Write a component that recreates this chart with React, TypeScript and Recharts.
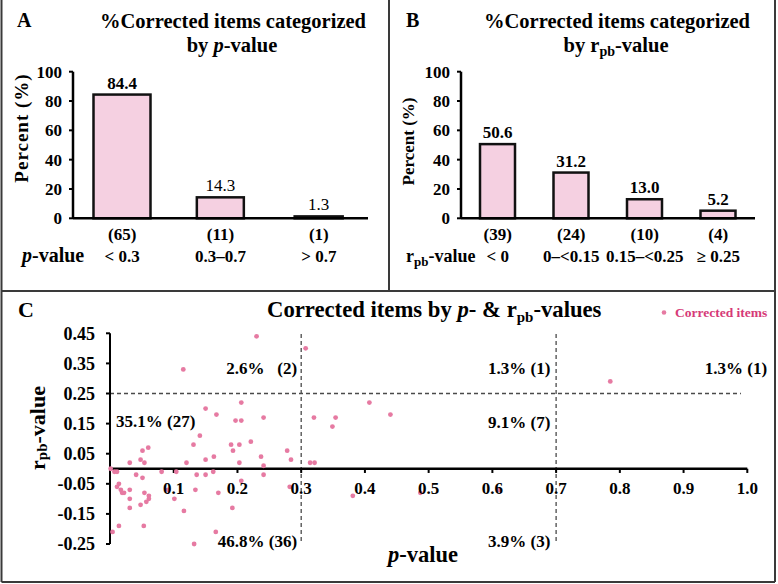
import { BarChart, Bar, XAxis, YAxis, LabelList, ScatterChart, Scatter, ReferenceLine, ReferenceDot } from "recharts";

const SERIF = "'Liberation Serif', 'Times New Roman', Times, serif";
const BAR_FILL = "#f5d0e1";
const DOT_FILL = "#e67aa2";
const LEGEND_INK = "#d63a78";
const DASH = "#4a4a4a";
const FRAME = "#3a3a3a";

// Panel A: corrected items grouped by p-value
const P_RANGES = ["< 0.3", "0.3–0.7", "> 0.7"];
const P_COUNTS = [65, 11, 1];
const P_PERCENT = [84.4, 14.3, 1.3];

// Panel B: corrected items grouped by r_pb
const R_RANGES = ["< 0", "0–<0.15", "0.15–<0.25", "≥ 0.25"];
const R_COUNTS = [39, 24, 10, 4];
const R_PERCENT = [50.6, 31.2, 13.0, 5.2];

const PERCENT_TICKS = [0, 20, 40, 60, 80, 100];

// Panel C: each corrected item, p-value vs r_pb-value
const ITEM_P = [
  0.23, 0.115, 0.206, 0.15, 0.167, 0.241, 0.197, 0.206, 0.141, 0.221, 0.131, 0.19, 0.203, 0.193, 0.278,
  0.06, 0.051, 0.048, 0.054, 0.031, 0.12, 0.15, 0.163, 0.237, 0.241, 0.284, 0.203, 0.001,
  0.007, 0.011, 0.041, 0.081, 0.104, 0.136, 0.15, 0.162, 0.241, 0.051, 0.206, 0.014, 0.011, 0.017,
  0.019, 0.022, 0.031, 0.031, 0.031, 0.048, 0.054, 0.061, 0.061, 0.057, 0.053, 0.101, 0.116, 0.134,
  0.17, 0.282, 0.192, 0.166, 0.132, 0.004, 0.014, 0.091,
  0.307, 0.407, 0.32, 0.354, 0.349, 0.44, 0.314, 0.321, 0.381, 0.487, 0.61,
  0.785,
];
const ITEM_R = [
  0.44, 0.33, 0.22, 0.2, 0.18, 0.17, 0.16, 0.16, 0.11, 0.09, 0.08, 0.08, 0.08, 0.06, 0.06,
  0.07, 0.06, 0.03, 0.02, 0.02, 0.02, 0.03, 0.04, 0.04, 0.01, 0.03, 0.02, 0.0,
  -0.01, -0.01, -0.02, -0.01, -0.01, -0.02, -0.02, -0.01, -0.02, -0.03, -0.04, -0.05, -0.06, -0.07,
  -0.08, -0.08, -0.07, -0.1, -0.13, -0.12, -0.08, -0.09, -0.1, -0.11, -0.19, -0.1, -0.14, -0.07,
  -0.08, -0.06, -0.13, -0.21, -0.25, -0.21, -0.19, -0.07,
  0.4, 0.22, 0.17, 0.17, 0.14, 0.18, 0.02, 0.02, -0.09, -0.08, -0.07,
  0.29,
];
const RPB_TICKS = [-0.25, -0.15, -0.05, 0.05, 0.15, 0.25, 0.35, 0.45];
const P_TICKS = [0.1, 0.2, 0.3, 0.4, 0.5, 0.6, 0.7, 0.8, 0.9, 1.0];
const P_CUTS = [0.3, 0.7];
const R_CUT = 0.25;

// quadrant share labels, anchored in data units
const QUADRANT_NOTES = [
  { text: "2.6%\u00a0\u00a0\u00a0(2)", p: 0.2935, r: 0.315, anchor: "end" },
  { text: "1.3% (1)", p: 0.691, r: 0.315, anchor: "end" },
  { text: "1.3% (1)", p: 1.031, r: 0.315, anchor: "end" },
  { text: "35.1% (27)", p: 0.0095, r: 0.14, anchor: "start" },
  { text: "9.1% (7)", p: 0.691, r: 0.137, anchor: "end" },
  { text: "46.8% (36)", p: 0.2935, r: -0.259, anchor: "end" },
  { text: "3.9% (3)", p: 0.691, r: -0.259, anchor: "end" },
];

const items = ITEM_P.map((p, i) => ({ p, r: ITEM_R[i] }));

const boldText = { fontFamily: SERIF, fontWeight: 700, fill: "#000" };

type BarsProps = {
  ranges: string[];
  counts: number[];
  percents: number[];
  width: number;
  yAxisWidth: number;
  barSize: number;
  barWidths?: number[];
  labelWeights?: number[];
};

function CategoryBars({ ranges, counts, percents, width, yAxisWidth, barSize, barWidths, labelWeights }: BarsProps) {
  const rows = ranges.map((range, idx) => ({ range, idx, count: counts[idx], percent: percents[idx] }));

  // eslint-disable-next-line @typescript-eslint/no-explicit-any
  const drawBar = (props: any) => {
    const { x, y, width: w, height: h, payload } = props;
    const bw = barWidths ? barWidths[payload.idx] : w;
    return <rect x={x + w / 2 - bw / 2} y={y} width={bw} height={Math.max(h, 0)} fill={BAR_FILL} stroke="#111" strokeWidth={2.5} />;
  };

  // eslint-disable-next-line @typescript-eslint/no-explicit-any
  const drawTick = (props: any) => {
    const { x, y, index } = props;
    return (
      <g>
        <text x={x} y={y + 22} textAnchor="middle" fontSize={17} {...boldText}>({counts[index]})</text>
        <text x={x} y={y + 44} textAnchor="middle" fontSize={17} {...boldText}>{ranges[index]}</text>
      </g>
    );
  };

  // eslint-disable-next-line @typescript-eslint/no-explicit-any
  const drawValue = (props: any) => {
    const { x, y, width: w, value, index } = props;
    return (
      <text x={x + w / 2} y={y - 6} textAnchor="middle" fontSize={17} fontFamily={SERIF} fill="#000"
        fontWeight={labelWeights ? labelWeights[index] : 700}>
        {Number(value).toFixed(1)}
      </text>
    );
  };

  return (
    <BarChart width={width} height={291} data={rows} margin={{ top: 71.7, right: 21, bottom: 0, left: 0 }} barSize={barSize}>
      <XAxis dataKey="range" height={72.7} axisLine={{ stroke: "#000", strokeWidth: 2.5 }} tickLine={false}
        tickSize={0} tickMargin={0} interval={0} tick={drawTick} />
      <YAxis domain={[0, 100]} ticks={PERCENT_TICKS} width={yAxisWidth} interval={0}
        axisLine={{ stroke: "#000", strokeWidth: 2.5 }} tickLine={{ stroke: "#000", strokeWidth: 2 }}
        tickSize={4} tickMargin={7} tick={{ ...boldText, fontSize: 17 }} />
      <Bar dataKey="percent" isAnimationActive={false} shape={drawBar}>
        <LabelList dataKey="percent" content={drawValue} />
      </Bar>
    </BarChart>
  );
}

function ItemScatter() {
  return (
    <ScatterChart width={776} height={291} margin={{ top: 42.3, right: 28.7, bottom: 38, left: 0 }}>
      <XAxis type="number" dataKey="p" domain={[0, 1]} hide />
      <YAxis type="number" dataKey="r" domain={[-0.25, 0.45]} ticks={RPB_TICKS} width={110} interval={0}
        axisLine={{ stroke: "#000", strokeWidth: 2 }} tickLine={{ stroke: "#000", strokeWidth: 2 }}
        tickSize={4} tickMargin={11} tick={{ ...boldText, fontSize: 18 }} tickFormatter={(v: number) => v.toFixed(2)} />
      {P_CUTS.map((c) => (
        <ReferenceLine key={c} segment={[{ x: c, y: -0.24 }, { x: c, y: 0.455 }]} stroke={DASH}
          strokeDasharray="4 3" strokeWidth={1.3} ifOverflow="visible" />
      ))}
      <ReferenceLine segment={[{ x: 0, y: R_CUT }, { x: 0.99, y: R_CUT }]} stroke={DASH}
        strokeDasharray="4 3" strokeWidth={1.3} />
      {/* the p-value axis crosses at r_pb = 0 */}
      <ReferenceLine segment={[{ x: 0, y: 0 }, { x: 1, y: 0 }]} stroke="#000" strokeWidth={2.5} />
      {P_TICKS.map((t) => (
        <ReferenceLine key={`t${t}`} segment={[{ x: t, y: 0 }, { x: t, y: -0.014 }]} stroke="#000" strokeWidth={2} />
      ))}
      <Scatter data={items} isAnimationActive={false}
        // eslint-disable-next-line @typescript-eslint/no-explicit-any
        shape={(s: any) => <circle cx={s.cx} cy={s.cy} r={2.4} fill={DOT_FILL} />} />
      {P_TICKS.map((t) => (
        <ReferenceDot key={`l${t}`} x={t} y={0} r={0} ifOverflow="visible"
          // eslint-disable-next-line @typescript-eslint/no-explicit-any
          shape={(s: any) => (
            <text x={s.cx} y={s.cy + 25.5} textAnchor="middle" fontSize={17} {...boldText}>{t.toFixed(1)}</text>
          )} />
      ))}
      {QUADRANT_NOTES.map((n, i) => (
        <ReferenceDot key={`n${i}`} x={n.p} y={n.r} r={0} ifOverflow="visible"
          // eslint-disable-next-line @typescript-eslint/no-explicit-any
          shape={(s: any) => (
            <text x={s.cx} y={s.cy} textAnchor={n.anchor as "start" | "end"} fontSize={17} {...boldText}>{n.text}</text>
          )} />
      ))}
    </ScatterChart>
  );
}

export default function App() {
  return (
    <div style={{ position: "relative", width: 778, height: 584, background: "#fff" }}>
      <style>{"body{margin:0}"}</style>
      <div style={{ position: "absolute", left: 0, top: 0 }}>
        <CategoryBars ranges={P_RANGES} counts={P_COUNTS} percents={P_PERCENT} width={389} yAxisWidth={73}
          barSize={50} barWidths={[57, 47, 48]} labelWeights={[700, 400, 400]} />
      </div>
      <div style={{ position: "absolute", left: 389, top: 0 }}>
        <CategoryBars ranges={R_RANGES} counts={R_COUNTS} percents={R_PERCENT} width={387} yAxisWidth={72} barSize={35} />
      </div>
      <div style={{ position: "absolute", left: 0, top: 291 }}>
        <ItemScatter />
      </div>

      <svg width={778} height={584} style={{ position: "absolute", left: 0, top: 0, pointerEvents: "none" }}
        fontFamily={SERIF} fontWeight={700}>
        {/* panel frames */}
        <g stroke={FRAME} strokeWidth={2} fill="none">
          <line x1={1.5} y1={0} x2={1.5} y2={582} />
          <line x1={775} y1={0} x2={775} y2={582} />
          <line x1={1.5} y1={582} x2={775} y2={582} />
          <line x1={1.5} y1={291} x2={775} y2={291} />
          <line x1={389} y1={0} x2={389} y2={291} />
        </g>

        {/* A */}
        <text x={17} y={27} fontSize={20}>A</text>
        <text x={233} y={28} fontSize={20.5} textAnchor="middle">%Corrected items categorized</text>
        <text x={232} y={52} fontSize={20.5} textAnchor="middle">
          by <tspan fontStyle="italic">p</tspan>-value
        </text>
        <text transform="translate(21.7,128) rotate(-90)" fontSize={19} textAnchor="middle"
          dominantBaseline="central" letterSpacing={1}>Percent (%)</text>
        <text x={22} y={262} fontSize={20}><tspan fontStyle="italic">p</tspan>-value</text>

        {/* B */}
        <text x={406} y={27} fontSize={20}>B</text>
        <text x={617} y={28} fontSize={20.5} textAnchor="middle">%Corrected items categorized</text>
        <text x={616} y={52} fontSize={20.5} textAnchor="middle">
          by r<tspan fontSize={14} dy={4}>pb</tspan><tspan dy={-4}>-value</tspan>
        </text>
        <text transform="translate(408,141.5) rotate(-90)" fontSize={17} textAnchor="middle"
          dominantBaseline="central">Percent (%)</text>
        <text x={406} y={262} fontSize={18}>r<tspan fontSize={13} dy={4}>pb</tspan><tspan dy={-4}>-value</tspan></text>

        {/* C */}
        <text x={18} y={317} fontSize={22}>C</text>
        <text x={267} y={317} fontSize={22.7}>
          Corrected items by <tspan fontStyle="italic">p</tspan>- &amp; r<tspan fontSize={15} dy={5}>pb</tspan>
          <tspan dy={-5}>-values</tspan>
        </text>
        <circle cx={664} cy={312.5} r={2.3} fill={DOT_FILL} />
        <text x={675} y={316.5} fontSize={13.5} fill={LEGEND_INK}>Corrected items</text>
        <text transform="translate(37,428) rotate(-90)" fontSize={22} textAnchor="middle" dominantBaseline="central">
          r<tspan fontSize={15} dy={5}>pb</tspan><tspan dy={-5}>-value</tspan>
        </text>
        <text x={388} y={562} fontSize={22.5}><tspan fontStyle="italic">p</tspan>-value</text>
      </svg>
    </div>
  );
}
